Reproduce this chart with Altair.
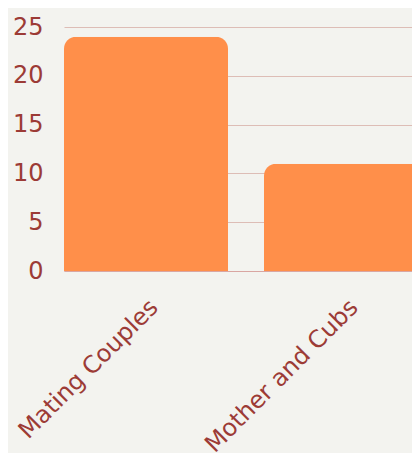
import altair as alt
import pandas as pd

categories = ["Mating Couples", "Mother and Cubs"]
counts = [24, 11]

df = pd.DataFrame({"category": categories, "count": counts})

chart = alt.Chart(df).mark_bar(
    color="#FF8F4A",
    cornerRadiusTopLeft=12,
    cornerRadiusTopRight=12,
).encode(
    x=alt.X("category:N", sort=categories, title=None,
            scale=alt.Scale(paddingInner=0.18, paddingOuter=0, range=[0, 364]),
            axis=alt.Axis(labelAngle=-45, labelFontSize=24, labelColor="#9C3B36",
                          labelFont="DejaVu Sans", ticks=False, labelPadding=24,
                          labelLimit=0,
                          domainColor="#D9A6A2", domainWidth=1, grid=False)),
    y=alt.Y("count:Q", title=None,
            scale=alt.Scale(domain=[0, 25]),
            axis=alt.Axis(values=[0, 5, 10, 15, 20, 25], labelFontSize=24,
                          labelColor="#9C3B36", labelFont="DejaVu Sans",
                          ticks=False, domain=False, labelPadding=21,
                          gridColor="#DDBDB6", gridWidth=1)),
).properties(
    width=348,
    height=244,
    autosize=alt.AutoSizeParams(type="none"),
    padding={"left": 56, "top": 19, "right": 0, "bottom": 182},
    background="#F3F3EF",
).configure_view(stroke=None)

chart.save("out.html", embed_options={"renderer": "svg", "actions": False})
